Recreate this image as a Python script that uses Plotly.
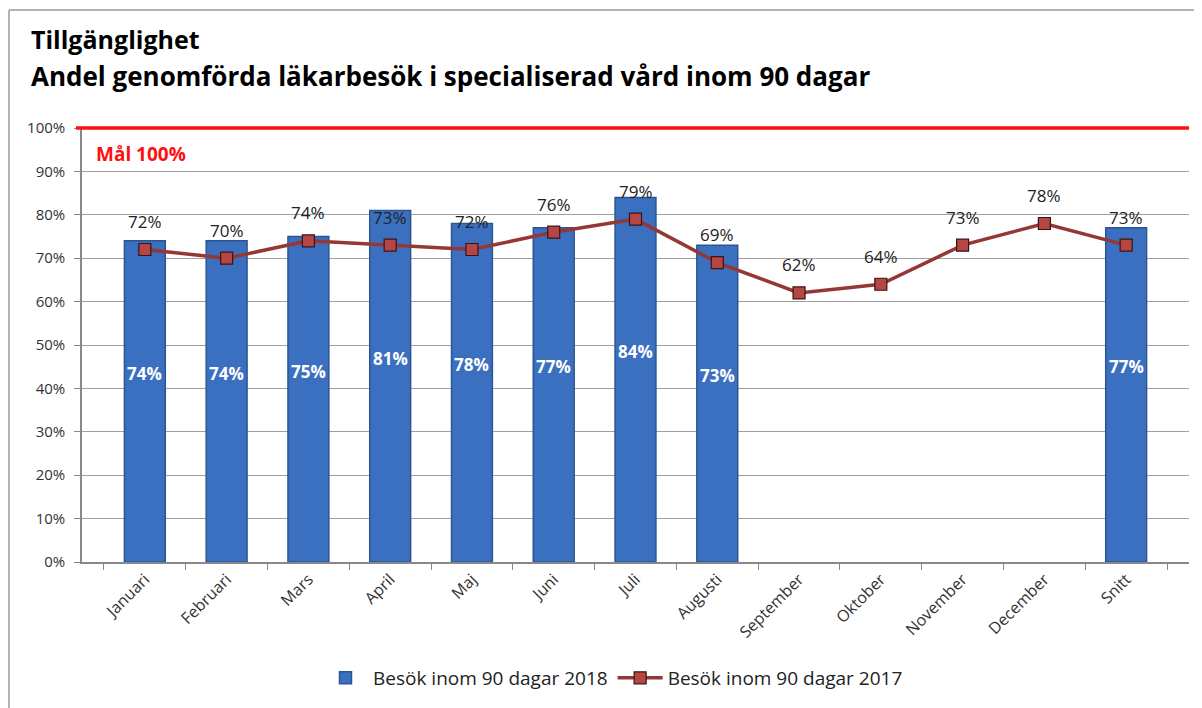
import plotly.graph_objects as go

categories = ["Januari", "Februari", "Mars", "April", "Maj", "Juni", "Juli",
              "Augusti", "September", "Oktober", "November", "December", "Snitt"]
besok_2018 = [0.74, 0.74, 0.75, 0.81, 0.78, 0.77, 0.84, 0.73, None, None, None, None, 0.77]
besok_2017 = [0.72, 0.70, 0.74, 0.73, 0.72, 0.76, 0.79, 0.69, 0.62, 0.64, 0.73, 0.78, 0.73]
mal = 1.0
y_ticks = [0, 0.1, 0.2, 0.3, 0.4, 0.5, 0.6, 0.7, 0.8, 0.9, 1.0]
y_tick_labels = ["0%", "10%", "20%", "30%", "40%", "50%", "60%", "70%", "80%", "90%", "100%"]

OFF = 8  # default page body margin
W, H = 1202 - OFF, 708 - OFF
# plot area in reference page pixels
PX0, PX1, PY0, PY1 = 82, 1189, 128, 562
L, R, T, B = PX0 - OFF, 1202 - PX1, PY0 - OFF, 708 - PY1
pw = PX1 - PX0
ph = PY1 - PY0

def px_x(p):
    return (p - PX0) / pw

def px_y(p):
    return (PY1 - p) / ph

FONT = "Open Sans"

fig = go.Figure()

fig.add_trace(go.Bar(
    x=categories, y=besok_2018, name="Besök inom 90 dagar 2018",
    width=0.5,
    marker=dict(color="#3B70C0", line=dict(color="#2A5794", width=1.5)),
    hoverinfo="x+y",
))

fig.add_trace(go.Scatter(
    x=categories, y=besok_2017, name="Besök inom 90 dagar 2017",
    mode="lines+markers",
    line=dict(color="#953735", width=3.5),
    marker=dict(symbol="square", size=12, color="#B54644",
                line=dict(color="#3A1414", width=1.2)),
))

# labels for the 2017 line
for c, v in zip(categories, besok_2017):
    fig.add_annotation(
        x=c, y=v, xref="x", yref="y", yshift=28,
        text=f"{round(v*100)}%", showarrow=False,
        font=dict(family=FONT, size=17, color="#222222"),
    )

# white labels inside bars
for c, v in zip(categories, besok_2018):
    if v is None:
        continue
    fig.add_annotation(
        x=c, y=v / 2 + 0.065, xref="x", yref="y",
        text=f"<b>{round(v*100)}%</b>", showarrow=False,
        font=dict(family=FONT, size=17, color="white"),
    )

# goal line
fig.add_shape(type="line", xref="paper", yref="paper", x0=px_x(76), x1=1, y0=1, y1=1,
              line=dict(color="#FF1010", width=3.5))
fig.add_annotation(x=px_x(94), y=px_y(154), xref="paper", yref="paper",
                   text="<b>Mål 100%</b>", showarrow=False, xanchor="left",
                   yanchor="middle",
                   font=dict(family=FONT, size=19, color="#FF1010"))

# titles
fig.add_annotation(x=px_x(29), y=px_y(39), xref="paper", yref="paper",
                   text="<b>Tillgänglighet</b>", showarrow=False, xanchor="left",
                   yanchor="middle",
                   font=dict(family=FONT, size=25, color="black"))
fig.add_annotation(x=px_x(29), y=px_y(76), xref="paper", yref="paper",
                   text="<b>Andel genomförda läkarbesök i specialiserad vård inom 90 dagar</b>",
                   showarrow=False, xanchor="left", yanchor="middle",
                   font=dict(family=FONT, size=26, color="black"))

# outer frame
fig.add_shape(type="line", xref="paper", yref="paper",
              x0=px_x(9), x1=px_x(9), y0=px_y(708), y1=px_y(10),
              line=dict(color="#9A9A9A", width=1.5))
fig.add_shape(type="line", xref="paper", yref="paper",
              x0=px_x(9), x1=px_x(1202), y0=px_y(10), y1=px_y(10),
              line=dict(color="#9A9A9A", width=1.5))

fig.update_layout(
    width=W, height=H,
    margin=dict(l=L, r=R, t=T, b=B, autoexpand=False),
    paper_bgcolor="white", plot_bgcolor="white",
    font=dict(family=FONT, size=14, color="#333333"),
    showlegend=True,
    legend=dict(orientation="h", x=px_x(613), xanchor="center", y=px_y(678), yanchor="middle",
                font=dict(family=FONT, size=19, color="#222222"),
                itemwidth=45, traceorder="normal"),
)
fig.update_xaxes(
    type="category", tickangle=-45, tickson="boundaries",
    ticks="outside", ticklen=6, tickcolor="#888888",
    showline=True, linecolor="#888888", linewidth=1.5,
    tickfont=dict(family=FONT, size=16, color="#333333"),
    showgrid=False,
)
fig.update_yaxes(
    range=[0, 1.0], tickvals=y_ticks, ticktext=y_tick_labels,
    ticks="outside", ticklen=6, tickcolor="#888888",
    showline=True, linecolor="#888888", linewidth=1.5,
    showgrid=True, gridcolor="#A0A0A0", gridwidth=1,
    tickfont=dict(family=FONT, size=15, color="#333333"),
    ticklabelstandoff=6,
    zeroline=False,
)

fig.write_html("out.html")
